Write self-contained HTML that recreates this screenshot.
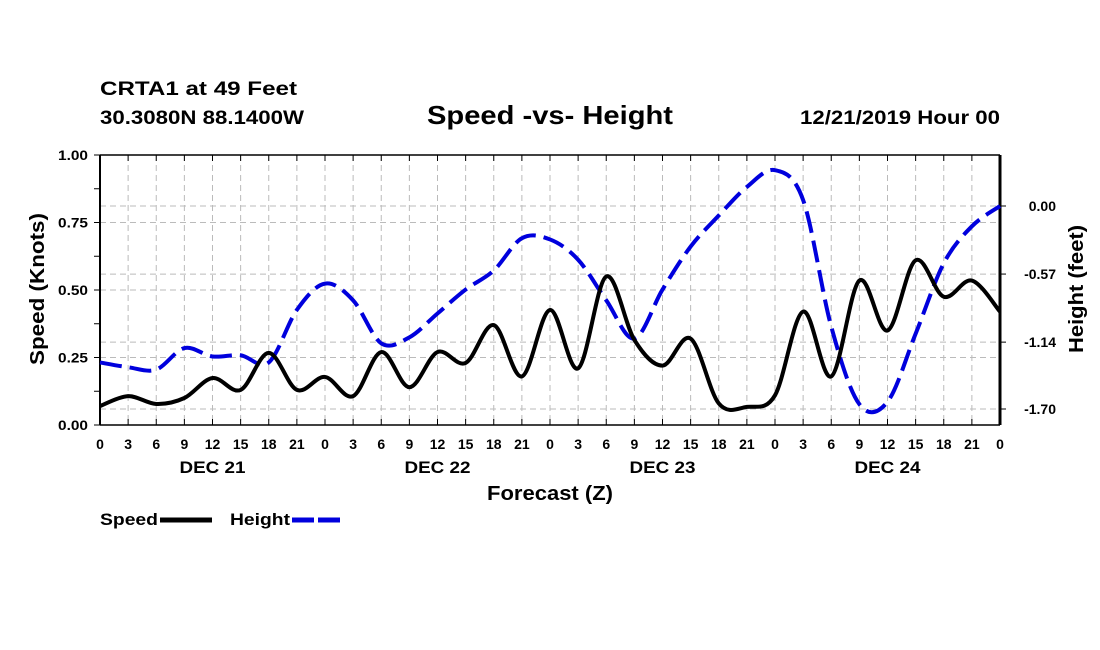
<!DOCTYPE html>
<html><head><meta charset="utf-8"><style>
body{margin:0;background:#fff;}
svg{display:block;font-family:"Liberation Sans",sans-serif;font-weight:bold;}
</style></head><body>
<svg id="chart" width="1100" height="650" viewBox="0 0 1100 650">
<text x="100" y="95" font-size="19" textLength="197" lengthAdjust="spacingAndGlyphs">CRTA1 at 49 Feet</text>
<text x="100" y="124" font-size="19" textLength="204" lengthAdjust="spacingAndGlyphs">30.3080N 88.1400W</text>
<text x="427" y="124" font-size="26" textLength="246" lengthAdjust="spacingAndGlyphs">Speed -vs- Height</text>
<text x="800" y="124" font-size="19" textLength="200" lengthAdjust="spacingAndGlyphs">12/21/2019 Hour 00</text>
<g id="grid"></g><g id="axes"></g><g id="series"></g>
<text x="487" y="500" font-size="20" textLength="126" lengthAdjust="spacingAndGlyphs">Forecast (Z)</text>
<text transform="translate(44,289) rotate(-90)" font-size="20" text-anchor="middle" textLength="152" lengthAdjust="spacingAndGlyphs">Speed (Knots)</text>
<text transform="translate(1083,289) rotate(-90)" font-size="20" text-anchor="middle" textLength="128" lengthAdjust="spacingAndGlyphs">Height (feet)</text>
<g>
<text x="100" y="525" font-size="17" textLength="58" lengthAdjust="spacingAndGlyphs">Speed</text>
<line x1="160" y1="520" x2="212" y2="520" stroke="#000" stroke-width="5"/>
<text x="230" y="525" font-size="17" textLength="60" lengthAdjust="spacingAndGlyphs">Height</text>
<line x1="292" y1="520" x2="342" y2="520" stroke="#0000dd" stroke-width="5" stroke-dasharray="22,4"/>
</g>
</svg>
<script>
const hours=[0,3,6,9,12,15,18,21,24,27,30,33,36,39,42,45,48,51,54,57,60,63,66,69,72,75,78,81,84,87,90,93,96];
const speed=[0.07,0.107,0.078,0.10,0.174,0.13,0.267,0.13,0.178,0.107,0.27,0.14,0.27,0.23,0.37,0.18,0.426,0.21,0.55,0.315,0.22,0.32,0.08,0.067,0.11,0.42,0.18,0.535,0.35,0.61,0.475,0.535,0.42];
const height=[-1.31,-1.35,-1.37,-1.19,-1.26,-1.25,-1.31,-0.87,-0.65,-0.79,-1.15,-1.1,-0.9,-0.70,-0.54,-0.27,-0.28,-0.45,-0.79,-1.11,-0.70,-0.34,-0.08,0.16,0.30,0.05,-1.01,-1.66,-1.64,-1.07,-0.48,-0.17,0.0];
const xTickLabels=["0","3","6","9","12","15","18","21","0","3","6","9","12","15","18","21","0","3","6","9","12","15","18","21","0","3","6","9","12","15","18","21","0"];
const dayLabels=["DEC 21","DEC 22","DEC 23","DEC 24"];
const speedTicks=[0,0.25,0.5,0.75,1.0];
const heightTicks=[0.0,-0.57,-1.14,-1.70];
const X0=100,X1=1000,YT=155,YB=425;
const x=h=>X0+h/96*(X1-X0);
const ys=v=>YB-v*(YB-YT);
const yh=v=>206-(v-0)*(409-206)/1.70;
const NS="http://www.w3.org/2000/svg";
function mk(p,t,a){const e=document.createElementNS(NS,t);for(const k in a)e.setAttribute(k,a[k]);p.appendChild(e);return e;}
const grid=document.getElementById('grid'),axes=document.getElementById('axes'),ser=document.getElementById('series');
for(let i=1;i<xTickLabels.length-1;i++){const l=mk(grid,'line',{x1:x(hours[i]),x2:x(hours[i]),y1:YT,y2:YB,stroke:'#bbb','stroke-dasharray':'6,4'});

}
speedTicks.forEach(v=>{if(v>0&&v<1){const l=mk(grid,'line',{x1:X0,x2:X1,y1:ys(v),y2:ys(v),stroke:'#bbb','stroke-dasharray':'6,4'});

}});
heightTicks.forEach(v=>{const l=mk(grid,'line',{x1:X0,x2:X1,y1:yh(v),y2:yh(v),stroke:'#bbb','stroke-dasharray':'6,4'});

});
mk(axes,'line',{x1:X0,x2:X1,y1:YT,y2:YT,stroke:'#000','stroke-width':1.5});
mk(axes,'line',{x1:X0,x2:X1,y1:YB,y2:YB,stroke:'#000','stroke-width':1.5});
mk(axes,'line',{x1:X0,x2:X0,y1:YT,y2:YB,stroke:'#000','stroke-width':2});
mk(axes,'line',{x1:X1,x2:X1,y1:YT,y2:YB,stroke:'#000','stroke-width':3});
hours.forEach((h,i)=>{mk(axes,'line',{x1:x(h),x2:x(h),y1:YB,y2:YB-6,stroke:'#000'});mk(axes,'line',{x1:x(h),x2:x(h),y1:YT,y2:YT+6,stroke:'#000'});
const t=mk(axes,'text',{x:x(h),y:449,'font-size':14,'text-anchor':'middle'});t.textContent=xTickLabels[i];

});
dayLabels.forEach((d,i)=>{const t=mk(axes,'text',{x:x(12+24*i),y:473,'font-size':17,'text-anchor':'middle',textLength:66,lengthAdjust:'spacingAndGlyphs'});t.textContent=d;

});
for(let v=0;v<=1.0001;v+=0.125){mk(axes,'line',{x1:X0-6,x2:X0,y1:ys(v),y2:ys(v),stroke:'#000'});}
speedTicks.forEach(v=>{const t=mk(axes,'text',{x:88,y:ys(v)+5,'font-size':14,'text-anchor':'end',textLength:30,lengthAdjust:'spacingAndGlyphs'});t.textContent=v.toFixed(2);

});
heightTicks.forEach(v=>{mk(axes,'line',{x1:X1,x2:X1+6,y1:yh(v),y2:yh(v),stroke:'#000'});
const t=mk(axes,'text',{x:1056,y:yh(v)+5,'font-size':14,'text-anchor':'end'});t.textContent=v.toFixed(2);

});
function smooth(pts){let d='M'+pts[0][0]+','+pts[0][1];for(let i=0;i<pts.length-1;i++){const p0=pts[i-1]||pts[i],p1=pts[i],p2=pts[i+1],p3=pts[i+2]||p2;
d+=' C'+(p1[0]+(p2[0]-p0[0])/6)+','+(p1[1]+(p2[1]-p0[1])/6)+' '+(p2[0]-(p3[0]-p1[0])/6)+','+(p2[1]-(p3[1]-p1[1])/6)+' '+p2[0]+','+p2[1];}return d;}
const hp=mk(ser,'path',{d:smooth(hours.map((h,i)=>[x(h),yh(height[i])])),fill:'none',stroke:'#0000dd','stroke-width':4,'stroke-dasharray':'22,8'});


const sp=mk(ser,'path',{d:smooth(hours.map((h,i)=>[x(h),ys(speed[i])])),fill:'none',stroke:'#000','stroke-width':4});


</script>
</body></html>
